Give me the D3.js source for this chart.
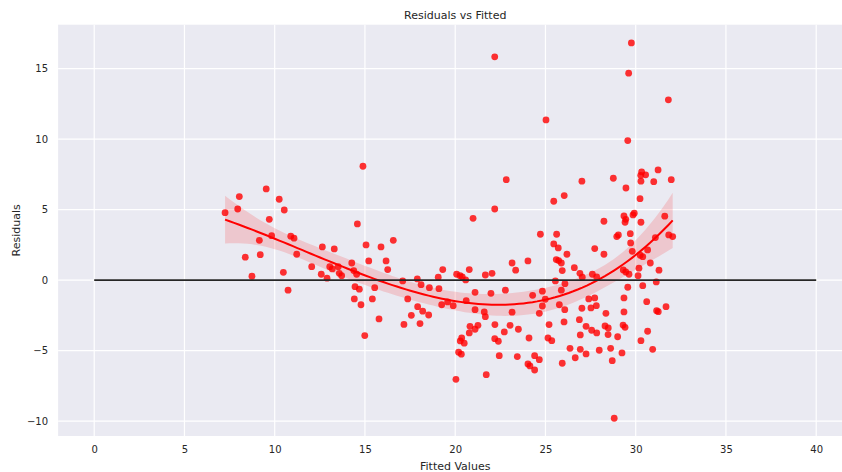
<!DOCTYPE html>
<html>
<head>
<meta charset="utf-8">
<script src="https://cdn.jsdelivr.net/npm/d3@7"></script>
<style>
  html, body { margin: 0; padding: 0; background: #ffffff; }
  svg { display: block; font-family: "DejaVu Sans", sans-serif; }
</style>
</head>
<body>
<svg id="chart" width="842" height="472"></svg>
<script>
// Fitted values from the model (x) and their residuals (y)
const fittedValues = [
  7.25, 7.95, 8.04, 9.53, 10.25, 10.53, 9.70, 9.83, 9.15, 8.37,
  9.20, 8.74, 10.48, 10.74, 10.89, 11.07, 11.22, 12.05, 12.64, 13.30,
  12.58, 12.90, 13.05, 13.19, 13.52, 13.58, 13.71, 14.27, 14.38, 14.54,
  14.89, 14.58, 15.06, 15.21, 14.45, 14.69, 14.41, 14.78, 14.99, 15.54,
  15.41, 15.78, 15.89, 16.17, 16.26, 16.57, 17.09, 17.90, 17.37, 17.92,
  17.57, 17.16, 18.05, 18.11, 18.20, 18.53, 18.57, 19.06, 19.31, 19.10,
  19.25, 19.58, 19.89, 20.08, 20.27, 20.39, 20.58, 20.78, 20.99, 21.10,
  20.61, 21.10, 20.82, 20.78, 21.10, 21.26, 20.36, 20.28, 20.50, 20.19,
  20.34, 20.04, 21.61, 21.67, 21.67, 22.04, 21.98, 22.19, 22.83, 22.78,
  22.20, 22.19, 22.39, 22.72, 23.04, 23.15, 23.15, 23.35, 24.03, 23.50,
  22.44, 21.72, 23.44, 24.09, 24.29, 24.72, 24.83, 24.99, 24.83, 24.66,
  25.20, 25.14, 25.35, 24.03, 24.14, 24.40, 24.40, 24.66, 25.46, 26.04,
  25.62, 25.46, 25.71, 25.60, 25.73, 25.88, 25.93, 26.19, 25.55, 26.08,
  25.88, 25.77, 26.07, 26.03, 25.93, 26.36, 26.65, 27.02, 26.60, 26.91,
  27.04, 27.02, 26.88, 27.25, 26.93, 26.93, 27.25, 27.40, 27.73, 27.52,
  27.82, 27.56, 27.84, 27.98, 27.60, 27.84, 27.73, 28.24, 28.24, 28.76,
  28.95, 29.04, 28.35, 28.47, 28.61, 28.70, 29.00, 29.76, 29.61, 31.81,
  29.56, 29.46, 30.29, 30.33, 30.28, 30.55, 31.00, 31.24, 31.97, 30.24,
  29.35, 29.45, 29.41, 29.92, 29.85, 30.29, 29.70, 29.72, 31.09, 31.61,
  31.83, 32.05, 29.81, 30.25, 30.39, 30.66, 30.81, 30.18, 30.13, 31.29,
  29.31, 29.45, 29.63, 30.39, 31.14, 29.56, 29.35, 30.61, 31.16, 31.25,
  31.68, 29.35, 29.30, 29.41, 29.24, 30.66, 30.29, 30.94, 28.81, 28.30,
  28.48, 22.19, 25.03
];
const residualValues = [
  4.78, 5.04, 5.92, 6.46, 5.73, 4.97, 4.31, 3.15, 2.82, 1.62,
  1.80, 0.27, 0.55, -0.72, 3.11, 2.97, 1.83, 0.95, 2.35, 2.21,
  0.41, 0.13, 0.95, 0.79, 0.95, 0.48, 0.31, 1.21, 0.67, 0.41,
  8.07, 3.98, 2.49, 1.36, -0.47, -0.65, -1.34, -1.75, -3.94, -0.54,
  -1.34, -2.76, 2.35, 1.36, 0.74, 2.82, -0.06, 0.08, -1.34, -1.89,
  -2.50, -3.15, -3.09, -0.33, -2.21, -2.48, -0.54, 0.20, 0.74, -0.61,
  -1.75, -1.55, -1.82, 0.41, 0.31, 0.22, 0.01, 0.74, 4.38, -0.87,
  -1.46, -2.10, -3.28, -3.75, -3.49, -3.21, -4.11, -4.32, -4.48, -5.12,
  -5.26, -7.04, -2.26, -2.60, 0.36, 0.48, -0.94, 5.04, 7.12, -0.72,
  -3.16, -4.16, -4.34, -3.68, -3.21, -2.28, 1.21, 0.70, 1.36, -3.49,
  -5.36, -6.71, -5.43, -4.11, -1.08, 3.25, -0.79, -1.36, -1.84, -2.36,
  -3.16, -4.11, -4.30, -5.95, -6.09, -6.38, -5.36, -5.65, 5.59, 5.99,
  3.25, 2.56, 2.28, 1.45, 1.38, 1.21, 0.67, 1.83, -0.06, -0.26,
  -0.72, -1.75, -2.10, -2.97, -5.90, -4.84, -5.51, 7.01, 0.88, 0.48,
  0.20, -2.00, -2.81, -3.28, -3.89, -4.91, -5.24, -1.34, -1.27, -1.98,
  -1.82, -3.56, -3.75, -4.98, 0.41, 0.22, 2.23, 1.83, 4.17, 7.22,
  3.08, 3.20, -2.36, -3.87, -4.84, -5.72, -4.02, 16.82, 14.67, 12.78,
  9.89, 6.53, 7.01, 7.67, 7.43, 7.46, 6.98, 7.81, 7.12, 5.77,
  4.55, 4.31, 4.10, 4.74, 4.62, 4.10, 3.29, 2.63, 3.01, 4.53,
  3.20, 3.08, 2.04, 1.76, 1.66, 2.14, 1.21, 0.84, 0.31, 0.70,
  0.72, 0.57, 0.41, -0.40, -0.13, -0.51, -1.27, -1.53, -2.17, -2.24,
  -1.89, -2.26, -3.19, -3.35, -5.17, -3.63, -4.30, -4.91, -9.80, -3.26,
  -3.40, 15.83, 11.36
];
const xTicks = [0, 5, 10, 15, 20, 25, 30, 35, 40];
const yTicks = [-10, -5, 0, 5, 10, 15];
const zeroLineX = [0, 40];
const trendOrder = 3;

const svg = d3.select("#chart");
const plot = { left: 58.1, right: 852.3, top: 24.7, bottom: 436 };

const x = d3.scaleLinear().domain([-2, 42]).range([plot.left, plot.right]);
const y = d3.scaleLinear().domain([-11.06, 18.11]).range([plot.bottom, plot.top]);

const points = fittedValues.map((f, i) => ({ f, r: residualValues[i] }));

// Gauss-Jordan inverse of a small square matrix
function invert(m) {
  const n = m.length;
  const a = m.map((row, i) => row.concat(d3.range(n).map(j => (i === j ? 1 : 0))));
  for (let c = 0; c < n; c++) {
    let p = c;
    for (let r = c + 1; r < n; r++) if (Math.abs(a[r][c]) > Math.abs(a[p][c])) p = r;
    [a[c], a[p]] = [a[p], a[c]];
    const pv = a[c][c];
    for (let j = 0; j < 2 * n; j++) a[c][j] /= pv;
    for (let r = 0; r < n; r++) {
      if (r === c) continue;
      const f = a[r][c];
      for (let j = 0; j < 2 * n; j++) a[r][j] -= f * a[c][j];
    }
  }
  return a.map(row => row.slice(n));
}
const matMul = (A, B) => A.map(row => B[0].map((_, j) => d3.sum(row, (v, k) => v * B[k][j])));

// Polynomial least-squares fit of residuals on fitted values; the 95% band uses
// heteroscedasticity-robust (sandwich) standard errors, like a pairs bootstrap
function polyFit(data, order) {
  const k = order + 1;
  const n = data.length;
  const mu = d3.mean(data, d => d.f);
  const basis = t => d3.range(k).map(p => Math.pow(t - mu, p));
  const S = d3.range(k).map(() => new Array(k).fill(0));
  const b = new Array(k).fill(0);
  data.forEach(d => {
    const v = basis(d.f);
    for (let i = 0; i < k; i++) {
      b[i] += v[i] * d.r;
      for (let j = 0; j < k; j++) S[i][j] += v[i] * v[j];
    }
  });
  const inv = invert(S);
  const coef = inv.map(row => d3.sum(row, (v, j) => v * b[j]));
  const pred = t => d3.sum(basis(t), (v, i) => v * coef[i]);
  const meat = d3.range(k).map(() => new Array(k).fill(0));
  data.forEach(d => {
    const v = basis(d.f);
    const e2 = (d.r - pred(d.f)) ** 2;
    for (let i = 0; i < k; i++) for (let j = 0; j < k; j++) meat[i][j] += e2 * v[i] * v[j];
  });
  const cov = matMul(matMul(inv, meat), inv).map(row => row.map(v => v * n / (n - k)));
  const se = t => {
    const v = basis(t);
    let q = 0;
    for (let i = 0; i < k; i++) for (let j = 0; j < k; j++) q += v[i] * cov[i][j] * v[j];
    return Math.sqrt(q);
  };
  return { pred, se };
}

// Background and grid
svg.append("rect")
  .attr("x", plot.left).attr("y", plot.top)
  .attr("width", plot.right - plot.left).attr("height", plot.bottom - plot.top)
  .attr("fill", "#EAEAF2");

const grid = svg.append("g");
grid.selectAll(".gx").data(xTicks).join("line")
  .attr("x1", d => x(d)).attr("x2", d => x(d))
  .attr("y1", plot.top).attr("y2", plot.bottom)
  .attr("stroke", "#ffffff").attr("stroke-width", 1.2);
grid.selectAll(".gy").data(yTicks).join("line")
  .attr("x1", plot.left).attr("x2", plot.right)
  .attr("y1", d => y(d)).attr("y2", d => y(d))
  .attr("stroke", "#ffffff").attr("stroke-width", 1.2);

// Axes (labels only, no tick marks or spines)
const xAxis = svg.append("g")
  .attr("transform", `translate(0,${plot.bottom})`)
  .call(d3.axisBottom(x).tickValues(xTicks).tickSize(0).tickPadding(10).tickFormat(d3.format("d")));
const yAxis = svg.append("g")
  .attr("transform", `translate(${plot.left},0)`)
  .call(d3.axisLeft(y).tickValues(yTicks).tickSize(0).tickPadding(10)
    .tickFormat(d => d < 0 ? "\u2212" + Math.abs(d) : String(d)));
[xAxis, yAxis].forEach(a => {
  a.select(".domain").remove();
  a.selectAll("text").attr("fill", "#262626").style("font-size", "10px")
    .style("font-family", "'DejaVu Sans', sans-serif");
});

svg.append("clipPath").attr("id", "plotClip")
  .append("rect")
  .attr("x", plot.left).attr("y", plot.top)
  .attr("width", plot.right - plot.left).attr("height", plot.bottom - plot.top);

const layer = svg.append("g").attr("clip-path", "url(#plotClip)");

// Scatter of residuals
layer.append("g").selectAll("circle").data(points).join("circle")
  .attr("cx", d => x(d.f)).attr("cy", d => y(d.r))
  .attr("r", 3.4)
  .attr("fill", "#ff0000").attr("fill-opacity", 0.8);

// Polynomial trend with confidence band
const fit = polyFit(points, trendOrder);
const [fMin, fMax] = d3.extent(fittedValues);
const evalGrid = d3.range(100).map(i => fMin + (fMax - fMin) * i / 99);
const band = evalGrid.map(t => ({ t, m: fit.pred(t), h: 1.96 * fit.se(t) }));

layer.append("path").datum(band)
  .attr("d", d3.area().x(d => x(d.t)).y0(d => y(d.m - d.h)).y1(d => y(d.m + d.h)))
  .attr("fill", "#ff0000").attr("fill-opacity", 0.15);
layer.append("path").datum(band)
  .attr("d", d3.line().x(d => x(d.t)).y(d => y(d.m)))
  .attr("fill", "none").attr("stroke", "#ff0000").attr("stroke-width", 2);

// Zero reference line
layer.append("line")
  .attr("x1", x(zeroLineX[0])).attr("x2", x(zeroLineX[1]))
  .attr("y1", y(0)).attr("y2", y(0))
  .attr("stroke", "#262626").attr("stroke-width", 1.7);

// Titles
svg.append("text")
  .attr("x", (plot.left + plot.right) / 2).attr("y", 19)
  .attr("text-anchor", "middle").attr("fill", "#262626")
  .style("font-size", "11px")
  .text("Residuals vs Fitted");
svg.append("text")
  .attr("x", (plot.left + plot.right) / 2).attr("y", 469.5)
  .attr("text-anchor", "middle").attr("fill", "#262626")
  .style("font-size", "11px")
  .text("Fitted Values");
svg.append("text")
  .attr("transform", `translate(20,${(plot.top + plot.bottom) / 2}) rotate(-90)`)
  .attr("text-anchor", "middle").attr("fill", "#262626")
  .style("font-size", "11px")
  .text("Residuals");
</script>
</body>
</html>
